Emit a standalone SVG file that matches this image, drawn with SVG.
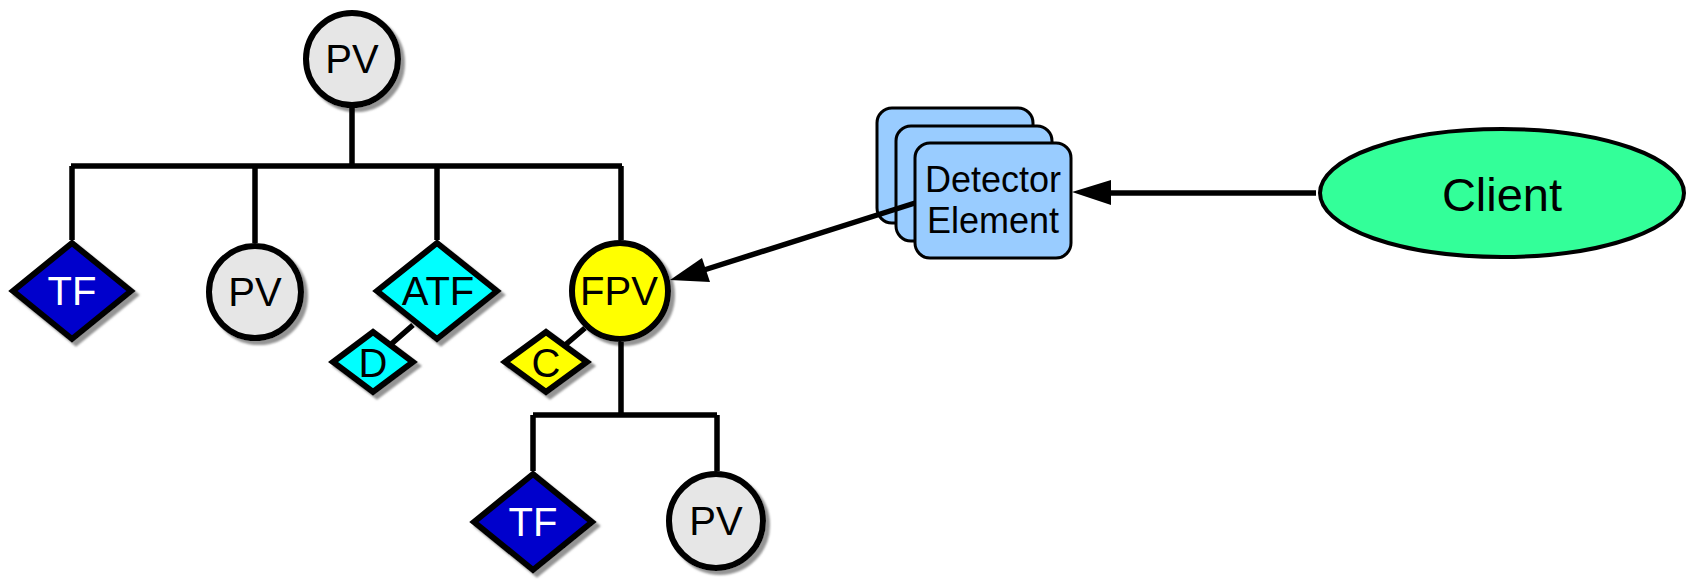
<svg xmlns="http://www.w3.org/2000/svg" width="1695" height="580" viewBox="0 0 1695 580">
<defs>
<filter id="sh" x="-20%" y="-20%" width="150%" height="150%">
<feGaussianBlur in="SourceAlpha" stdDeviation="1"/>
<feOffset dx="4" dy="4" result="b"/>
<feFlood flood-color="#7a7a7a" flood-opacity="0.8"/>
<feComposite in2="b" operator="in" result="s"/>
<feMerge><feMergeNode in="s"/><feMergeNode in="SourceGraphic"/></feMerge>
</filter>
</defs>
<style>
.n{stroke:#000;stroke-width:6;filter:url(#sh)}
.pv{fill:#e6e6e6}
.tf{fill:#0000cc}
.cy{fill:#00ffff}
.ye{fill:#ffff00}
.det{fill:#99ccff;stroke:#000;stroke-width:3}
.cl{fill:#33ff99;stroke:#000;stroke-width:4}
.t{font-family:"Liberation Sans",Arial,sans-serif;font-size:40px;text-anchor:middle;fill:#000}
.w{fill:#fff}
.c{stroke:#000;stroke-width:5.5;fill:none}
.ah{fill:#000}
</style>
<g id="pv-top"><circle class="n pv" cx="352" cy="59" r="46"/><text class="t" x="352" y="73">PV</text></g>
<g id="tf-left"><polygon class="n tf" points="72,243 131,291 72,339 13,291"/><text class="t w" x="72" y="305">TF</text></g>
<g id="pv-mid"><circle class="n pv" cx="255" cy="292" r="46"/><text class="t" x="255" y="306">PV</text></g>
<g id="atf"><polygon class="n cy" points="437,243 497,291 437,339 377,291"/><text class="t" x="438" y="305">ATF</text></g>
<g id="d"><polygon class="n cy" points="373,332 413,362 373,392 333,362"/><text class="t" x="373" y="377">D</text></g>
<g id="fpv"><circle class="n ye" cx="620" cy="291" r="48"/><text class="t" x="619" y="305">FPV</text></g>
<g id="c"><polygon class="n ye" points="546,332 587,362 546,392 505,362"/><text class="t" x="546" y="377">C</text></g>
<g id="tf-bottom"><polygon class="n tf" points="533,474 592,522 533,570 474,522"/><text class="t w" x="533" y="536">TF</text></g>
<g id="pv-bottom"><circle class="n pv" cx="716" cy="521" r="47"/><text class="t" x="716" y="535">PV</text></g>
<g id="detector">
<rect class="det" x="877" y="108" width="156" height="115" rx="15"/>
<rect class="det" x="896" y="126" width="156" height="115" rx="15"/>
<rect class="det" x="915" y="143" width="156" height="115" rx="15"/>
<text class="t" x="993" y="192" style="font-size:36px">Detector</text>
<text class="t" x="993" y="233" style="font-size:36px">Element</text>
</g>
<g id="client"><ellipse class="cl" cx="1502" cy="193" rx="182" ry="64"/><text class="t" x="1502" y="211" style="font-size:47px">Client</text></g>
<g id="connectors">
<path class="c" d="M352 108V166M71 166H622M72 166V240M255 166V243M437 166V240M621 166V240"/>
<path class="c" d="M621 342V415M533 415H717M533 415V471M717 415V471"/>
<path class="c" d="M389 346L413 325M564 346L585 328"/>
<path class="c" d="M1316 193H1105"/>
<polygon class="ah" points="1072,192 1111,180 1111,205"/>
<path class="c" d="M915 203L704 270"/>
<polygon class="ah" points="670,280 702,258 710,282"/>
</g>
</svg>
